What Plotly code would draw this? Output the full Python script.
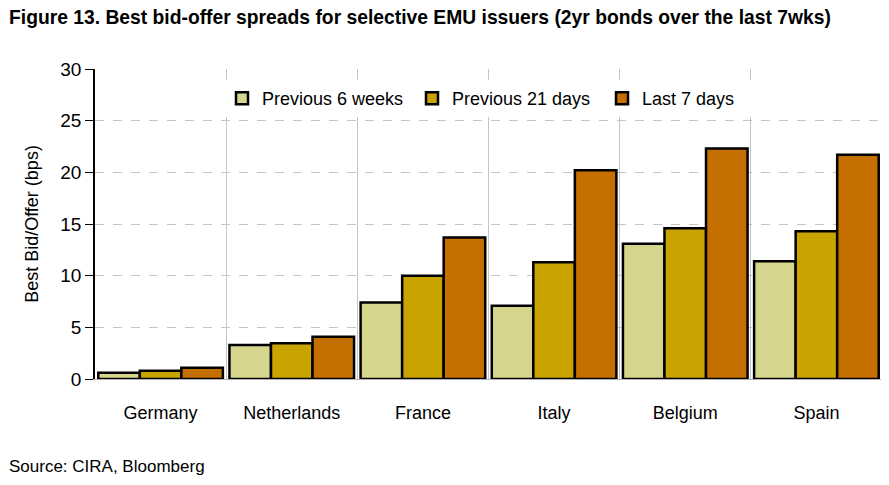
import plotly.graph_objects as go

countries = ["Germany", "Netherlands", "France", "Italy", "Belgium", "Spain"]
series_names = ["Previous 6 weeks", "Previous 21 days", "Last 7 days"]
prev_6_weeks = [0.6, 3.3, 7.4, 7.1, 13.1, 11.4]
prev_21_days = [0.8, 3.45, 10.0, 11.3, 14.6, 14.3]
last_7_days = [1.1, 4.1, 13.7, 20.2, 22.3, 21.7]
y_ticks = [0, 5, 10, 15, 20, 25, 30]

colors = ["#d6d58e", "#c9a300", "#c46f00"]
values = [prev_6_weeks, prev_21_days, last_7_days]

# page body has an 8px margin; compensate so the plot lands where the reference has it
OFF = 8
W, H = 889 - OFF, 485 - OFF
X0, X1, Y0, Y1 = 95, 882, 69, 379          # plot area in reference pixels
L, T = X0 - OFF, Y0 - OFF
R, B = W - (X1 - OFF), H - (Y1 - OFF)
PW, PH = X1 - X0, Y1 - Y0


def px(x):
    return (x - X0) / PW


def py(y):
    return (Y1 - y) / PH


fig = go.Figure()
for name, vals, col in zip(series_names, values, colors):
    fig.add_trace(go.Bar(
        x=countries, y=vals, name=name,
        marker=dict(color=col, line=dict(color="black", width=2.5)),
    ))

font_main = "Liberation Sans, Arial, sans-serif"

fig.update_layout(
    width=W, height=H,
    margin=dict(l=L, r=R, t=T, b=B, autoexpand=False),
    paper_bgcolor="white", plot_bgcolor="white",
    barmode="group", bargap=0.05, bargroupgap=0,
    font=dict(family=font_main, size=18, color="black"),
    showlegend=True,
    legend=dict(
        orientation="h", x=px(222), y=py(80), xanchor="left", yanchor="top",
        bgcolor="white", font=dict(size=18, family=font_main),
        itemwidth=30, entrywidth=145,
    ),
    annotations=[
        dict(text="<b>Figure 13. Best bid-offer spreads for selective EMU issuers (2yr bonds over the last 7wks)</b>",
             xref="paper", yref="paper", x=px(7), y=py(17),
             xanchor="left", yanchor="middle", showarrow=False,
             font=dict(family="Liberation Sans Narrow, Arial Narrow, sans-serif", size=19.3)),
        dict(text="Source: CIRA, Bloomberg", xref="paper", yref="paper",
             x=px(7), y=py(466), xanchor="left", yanchor="middle",
             showarrow=False, font=dict(size=17, family=font_main)),
    ],
)

fig.update_xaxes(
    type="category", tickson="boundaries", showgrid=True, gridcolor="#c4c4c4", gridwidth=1,
    ticks="", showline=True, linecolor="#b0b0b0", linewidth=1, automargin=False,
    ticklabelstandoff=17, tickfont=dict(size=18, family=font_main),
    range=[-0.5, 5.5],
)
fig.update_yaxes(
    range=[0, 30], tickvals=y_ticks, showgrid=True, gridcolor="#c4c4c4", griddash="dash",
    zeroline=False, showline=True, linecolor="black", linewidth=1.5, automargin=False,
    ticks="outside", ticklen=8, tickcolor="black", tickfont=dict(size=19, family=font_main),
    title=dict(text="Best Bid/Offer (bps)", font=dict(size=18, family=font_main), standoff=17),
)

fig.write_html("out.html")
